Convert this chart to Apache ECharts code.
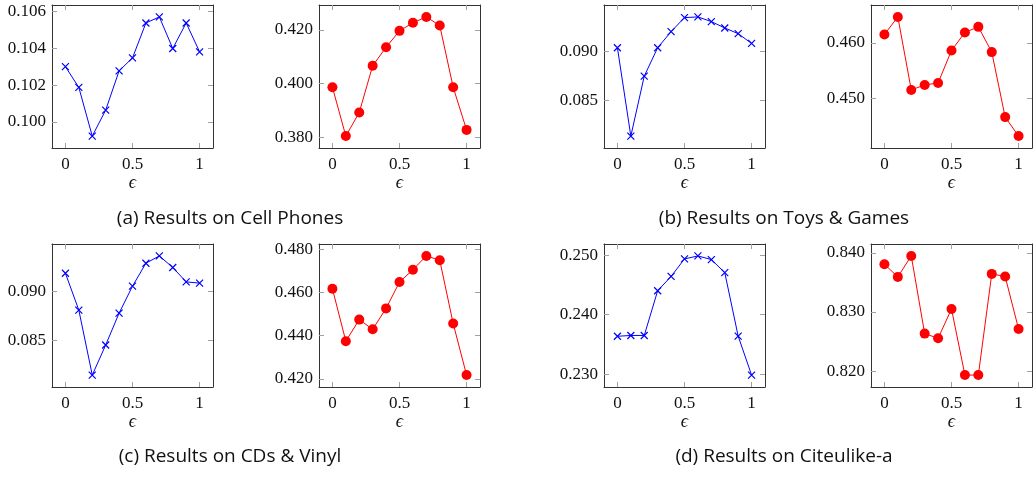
<!DOCTYPE html>
<html>
<head>
<meta charset="utf-8">
<title>epsilon results</title>
<script src="https://cdn.jsdelivr.net/npm/echarts@6/dist/echarts.min.js"></script>
<style>
  html, body { margin: 0; padding: 0; background: #fff; }
  #main { width: 1035px; height: 477px; }
</style>
</head>
<body>
<div id="main"></div>
<script>
// x values (epsilon)
var eps = [0, 0.1, 0.2, 0.3, 0.4, 0.5, 0.6, 0.7, 0.8, 0.9, 1];
var epsTicks = [0, 0.5, 1];

// (a) Cell Phones
var cellBlue = [0.1030, 0.10187, 0.09922, 0.10063, 0.10277, 0.10348, 0.10538, 0.10571, 0.10399, 0.10538, 0.10381];
var cellBlueTicks = [0.100, 0.102, 0.104, 0.106];
var cellRed = [0.3986, 0.3804, 0.3892, 0.4066, 0.4135, 0.4196, 0.4226, 0.4248, 0.4216, 0.3986, 0.3827];
var cellRedTicks = [0.380, 0.400, 0.420];

// (b) Toys & Games
var toysBlue = [0.09038, 0.08134, 0.08747, 0.09038, 0.09202, 0.09346, 0.09353, 0.09305, 0.0924, 0.09182, 0.09082];
var toysBlueTicks = [0.085, 0.090];
var toysRed = [0.46149, 0.46464, 0.45155, 0.45244, 0.4528, 0.45863, 0.46185, 0.46286, 0.45833, 0.44667, 0.44327];
var toysRedTicks = [0.450, 0.460];

// (c) CDs & Vinyl
var cdsBlue = [0.09188, 0.08808, 0.0814, 0.08449, 0.08777, 0.09055, 0.09291, 0.09366, 0.09247, 0.09099, 0.09086];
var cdsBlueTicks = [0.085, 0.090];
var cdsRed = [0.4617, 0.4374, 0.4474, 0.4429, 0.4526, 0.4648, 0.4705, 0.4769, 0.4749, 0.4456, 0.4217];
var cdsRedTicks = [0.420, 0.440, 0.460, 0.480];

// (d) Citeulike-a
var citeBlue = [0.23636, 0.2365, 0.2365, 0.24403, 0.24644, 0.24938, 0.24989, 0.24927, 0.24709, 0.23639, 0.22983];
var citeBlueTicks = [0.230, 0.240, 0.250];
var citeRed = [0.83808, 0.83594, 0.83949, 0.82634, 0.82555, 0.83051, 0.81932, 0.81932, 0.83645, 0.836, 0.82713];
var citeRedTicks = [0.820, 0.830, 0.840];

var captions = ['(a) Results on Cell Phones', '(b) Results on Toys & Games',
                '(c) Results on CDs & Vinyl', '(d) Results on Citeulike-a'];

var BLUE = '#0000ff', RED = '#ff0000';
var CROSS = 'path://M0,0L10,10M10,0L0,10';
var serif = '"Liberation Serif", "DejaVu Serif", serif';

// panels: values, ticks, colour, grid left/top
var panels = [
  { v: cellBlue, t: cellBlueTicks, c: BLUE, l: 52,  top: 5 },
  { v: cellRed,  t: cellRedTicks,  c: RED,  l: 319, top: 5 },
  { v: toysBlue, t: toysBlueTicks, c: BLUE, l: 604, top: 5 },
  { v: toysRed,  t: toysRedTicks,  c: RED,  l: 871, top: 5 },
  { v: cdsBlue,  t: cdsBlueTicks,  c: BLUE, l: 52,  top: 244 },
  { v: cdsRed,   t: cdsRedTicks,   c: RED,  l: 319, top: 244 },
  { v: citeBlue, t: citeBlueTicks, c: BLUE, l: 604, top: 244 },
  { v: citeRed,  t: citeRedTicks,  c: RED,  l: 871, top: 244 }
];

var grid = [], xAxis = [], yAxis = [], series = [];

panels.forEach(function (p, i) {
  grid.push({ left: p.l, top: p.top, width: 161, height: 143, outerBoundsMode: 'none' });

  // pgfplots style: enlarge limits by 10% of data range
  var lo = Math.min.apply(null, p.v), hi = Math.max.apply(null, p.v);
  var pad = (hi - lo) * 0.1;

  var tick = { show: true, inside: true, length: 5, lineStyle: { color: '#a0a0a0', width: 1 } };
  var line = { show: true, onZero: false, lineStyle: { color: '#333', width: 1 } };

  // bottom + top x axes
  xAxis.push({
    gridIndex: i, type: 'value', min: -0.1, max: 1.1, position: 'bottom',
    axisLine: line, splitLine: { show: false },
    axisTick: Object.assign({ customValues: epsTicks }, tick),
    axisLabel: { customValues: epsTicks, margin: 8, color: '#111', fontFamily: serif, fontSize: 17,
                 formatter: function (v) { return String(v); } },
    name: 'ϵ', nameLocation: 'middle', nameGap: 26,
    nameTextStyle: { fontFamily: serif, fontStyle: 'italic', fontSize: 18, color: '#111' }
  });
  xAxis.push({
    gridIndex: i, type: 'value', min: -0.1, max: 1.1, position: 'top',
    axisLine: line, splitLine: { show: false },
    axisTick: Object.assign({ customValues: epsTicks }, tick),
    axisLabel: { show: false }
  });

  // left + right y axes
  yAxis.push({
    gridIndex: i, type: 'value', min: lo - pad, max: hi + pad, position: 'left',
    axisLine: line, splitLine: { show: false },
    axisTick: Object.assign({ customValues: p.t }, tick),
    axisLabel: { customValues: p.t, margin: 6, color: '#111', fontFamily: serif, fontSize: 17,
                 formatter: function (v) { return v.toFixed(3); } }
  });
  yAxis.push({
    gridIndex: i, type: 'value', min: lo - pad, max: hi + pad, position: 'right',
    axisLine: line, splitLine: { show: false },
    axisTick: Object.assign({ customValues: p.t }, tick),
    axisLabel: { show: false }
  });

  var isBlue = p.c === BLUE;
  series.push({
    type: 'line',
    xAxisIndex: 2 * i, yAxisIndex: 2 * i,
    data: eps.map(function (x, k) { return [x, p.v[k]]; }),
    symbol: isBlue ? CROSS : 'circle',
    symbolSize: isBlue ? 7 : 10,
    showAllSymbol: true,
    lineStyle: { color: p.c, width: 1 },
    itemStyle: isBlue ? { color: 'none', borderColor: BLUE, borderWidth: 1.2 }
                      : { color: RED, borderWidth: 0 },
    animation: false,
    silent: true
  });
});

var capFont = '19px "Open Sans", Lato, "Noto Sans", sans-serif';
var capPos = [[230, 219], [784, 219], [230, 457], [784, 457]];
var graphic = captions.map(function (t, i) {
  return {
    type: 'text', x: capPos[i][0], y: capPos[i][1],
    style: { text: t, font: capFont, fill: '#111', textAlign: 'center', textVerticalAlign: 'middle' }
  };
});

var myChart = echarts.init(document.getElementById('main'));
myChart.setOption({
  animation: false,
  grid: grid,
  xAxis: xAxis,
  yAxis: yAxis,
  series: series,
  graphic: graphic
});
</script>
</body>
</html>
